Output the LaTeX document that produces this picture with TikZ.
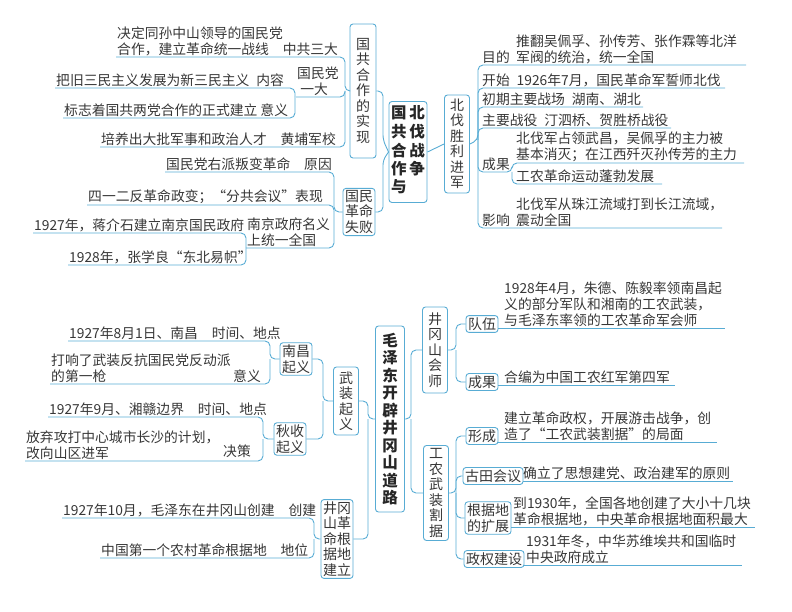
\documentclass[tikz,border=0pt]{standalone}
\usepackage{fontspec}
\setmainfont{Noto Sans CJK SC}
\usepackage{tikz}
\definecolor{lblue}{RGB}{88,172,212}
\definecolor{ink}{RGB}{55,55,55}
\begin{document}
\begin{tikzpicture}[x=1pt, y=-1pt, line join=round]
	\tikzstyle{link} = [draw=lblue, line width=0.9pt, rounded corners=5pt];
	\tikzstyle{box} = [draw=lblue, line width=0.9pt, rounded corners=3pt, fill=white, inner sep=2pt, align=center, text=ink, font=\fontsize{14}{15.5}\selectfont];
	\tikzstyle{root} = [box, font=\bfseries\fontsize{15.5}{17.5}\selectfont, text=black!85];
	\tikzstyle{leaf} = [anchor=south west, inner sep=1pt, align=left, text=ink, font=\fontsize{13.8}{16}\selectfont];
	\tikzstyle{tag} = [leaf, anchor=south east];

	\useasboundingbox (0,0) rectangle (792,612);

	% upper half
	\node[root, minimum height=101pt] at (408,152) (bf) {\begin{tabular}{@{}c@{\hspace{3pt}}c@{}}国&北\\共&伐\\合&战\\作&争\\与&\end{tabular}};
	\node[box, minimum height=134pt, minimum width=26pt] at (363,91) (sx) {国\\共\\合\\作\\的\\实\\现};
	\node[box] at (359,212) (sb) {国民\\革命\\失败};
	\node[box, minimum height=98pt, minimum width=25pt] at (457,144) (bfsl) {北\\伐\\胜\\利\\进\\军};

	\draw[link] (sx.east) -- (383,91) -- (383,140) -- (bf.west);
	\draw[link] (sb.east) -- (383,212) -- (383,160) -- (bf.west);
	\draw[link] (bf.east) -- (bfsl.west);

	% 国共合作的实现
	\node[leaf] at (116,57) (zg) {决定同孙中山领导的国民党\\合作，建立革命统一战线\quad 中共三大};
	\draw[link] (116,57) -| (345,91) -- (sx.west);
	\node[leaf] at (296,97) (yd) {国民党\\\ 一大};
	\draw[link] (296,97) -| (345,91);
	\node[leaf] at (55,88) (nr) {把旧三民主义发展为新三民主义\enspace 内容};
	\node[leaf] at (63,118) (yy) {标志着国共两党合作的正式建立 意义};
	\draw[link] (55,88) -| (295,97);
	\draw[link] (63,118) -| (295,97);
	\node[leaf] at (100,147) (hp) {培养出大批军事和政治人才\quad 黄埔军校};
	\draw[link] (100,147) -| (345,91);

	% 国民革命失败
	\node[leaf] at (165,172) (yy1) {国民党右派叛变革命\quad 原因};
	\node[leaf] at (87,205) (bx) {四一二反革命政变；“分共会议”表现};
	\node[leaf] at (246,248) (nj) {南京政府名义\\上统一全国};
	\draw[link] (165,172) -| (334,212) -- (sb.west);
	\draw[link] (87,205) -| (334,212);
	\draw[link] (246,248) -| (334,212);
	\node[leaf] at (33,233) (jj) {1927年，蒋介石建立南京国民政府};
	\node[leaf] at (68,265) (zx) {1928年，张学良“东北易帜”};
	\draw[link] (33,233) -| (246,248);
	\draw[link] (68,265) -| (246,248);

	% 北伐胜利进军
	\draw[link] (bfsl.east) -- (478,140) |- (746,65);
	\draw[link] (478,140) |- (725,88);
	\draw[link] (478,140) |- (643,107);
	\draw[link] (478,140) |- (671,128);
	\draw[link] (478,140) |- (512,172) |- (744,163);
	\draw[link] (512,172) |- (662,184);
	\draw[link] (478,140) |- (722,228);
	\node[leaf] at (481,65) (md) {目的};
	\node[leaf] at (515,65) {推翻吴佩孚、孙传芳、张作霖等北洋\\军阀的统治，统一全国};
	\node[leaf] at (481,88) {开始\enspace 1926年7月，国民革命军誓师北伐};
	\node[leaf] at (481,107) {初期主要战场\enspace 湖南、湖北};
	\node[leaf] at (481,128) {主要战役\enspace 汀泗桥、贺胜桥战役};
	\node[leaf] at (481,172) {成果};
	\node[leaf] at (515,163) {北伐军占领武昌，吴佩孚的主力被\\基本消灭；在江西歼灭孙传芳的主力};
	\node[leaf] at (515,184) {工农革命运动蓬勃发展};
	\node[leaf] at (481,228) {影响};
	\node[leaf] at (515,228) {北伐军从珠江流域打到长江流域，\\震动全国};

	% lower half
	\node[root, minimum height=186pt, minimum width=29pt] at (390,419) (mz) {毛\\泽\\东\\开\\辟\\井\\冈\\山\\道\\路};
	\node[box, minimum height=68pt, minimum width=25pt] at (346,401) (wz) {武\\装\\起\\义};
	\node[box] at (337,539) (gj) {井冈\\山革\\命根\\据地\\建立};
	\node[box] at (296,359) (nc) {南昌\\起义};
	\node[box] at (290,439) (qs) {秋收\\起义};
	\draw[link] (wz.east) -- (368,401) -- (368,419) -- (mz.west);
	\draw[link] (gj.east) -- (368,539) -- (368,419);
	\draw[link] (nc.east) -- (323,359) -- (323,401) -- (wz.west);
	\draw[link] (qs.east) -- (323,439) -- (323,401);

	\node[leaf] at (68,341) {1927年8月1日、南昌\quad 时间、地点};
	\node[leaf] at (50,384) {打响了武装反抗国民党反动派\\的第一枪};
	\node[tag] at (262,384) {意义};
	\draw[link] (68,341) -| (270,359) -- (nc.west);
	\draw[link] (50,384) -| (270,359);
	\node[leaf] at (48,417) {1927年9月、湘赣边界\quad 时间、地点};
	\node[leaf] at (25,461) {放弃攻打中心城市长沙的计划，\\改向山区进军};
	\node[tag] at (252,459) {决策};
	\draw[link] (48,417) -| (263,439) -- (qs.west);
	\draw[link] (25,461) -| (263,439);
	\node[leaf] at (62,518) {1927年10月，毛泽东在井冈山创建\quad 创建};
	\node[leaf] at (100,558) {中国第一个农村革命根据地\quad 地位};
	\draw[link] (62,518) -| (314,539) -- (gj.west);
	\draw[link] (100,558) -| (314,539);

	\node[box, minimum height=86pt, minimum width=25pt] at (435,350) (hs) {井\\冈\\山\\会\\师};
	\node[box, minimum height=95pt, minimum width=25pt] at (436,493) (gn) {工\\农\\武\\装\\割\\据};
	\draw[link] (mz.east) -- (411,419) -- (411,350) -- (hs.west);
	\draw[link] (411,419) -- (411,493) -- (gn.west);

	\node[box] at (482,324) (dw) {队伍};
	\node[box] at (482,382) (cg) {成果};
	\draw[link] (hs.east) -- (456,350) |- (dw.west);
	\draw[link] (456,350) |- (cg.west);
	\draw[link] (dw.east) ++(0,4) -- (725,328);
	\draw[link] (cg.east) ++(0,3) -- (675,385);
	\node[leaf] at (503,328) {1928年4月，朱德、陈毅率领南昌起\\义的部分军队和湘南的工农武装，\\与毛泽东率领的工农革命军会师};
	\node[leaf] at (503,385) {合编为中国工农红军第四军};

	\node[box] at (482,436) (xc) {形成};
	\node[box] at (493,476) (gt) {古田会议};
	\node[box] at (488,518) (kz) {根据地\\的扩展};
	\node[box] at (494,559) (zq) {政权建设};
	\draw[link] (gn.east) -- (456,493) |- (xc.west);
	\draw[link] (456,493) |- (gt.west);
	\draw[link] (456,493) |- (kz.west);
	\draw[link] (456,493) |- (zq.west);
	\draw[link] (xc.east) ++(0,6) -- (717,442);
	\draw[link] (gt.east) ++(0,5) -- (733,481);
	\draw[link] (kz.east) ++(0,9) -- (755,527);
	\draw[link] (zq.east) ++(0,6) -- (742,565);
	\node[leaf] at (503,442) {建立革命政权，开展游击战争，创\\造了“工农武装割据”的局面};
	\node[leaf] at (522,481) {确立了思想建党、政治建军的原则};
	\node[leaf] at (512,527) {到1930年，全国各地创建了大小十几块\\革命根据地，中央革命根据地面积最大};
	\node[leaf] at (525,565) {1931年冬，中华苏维埃共和国临时\\中央政府成立};
\end{tikzpicture}
\end{document}
